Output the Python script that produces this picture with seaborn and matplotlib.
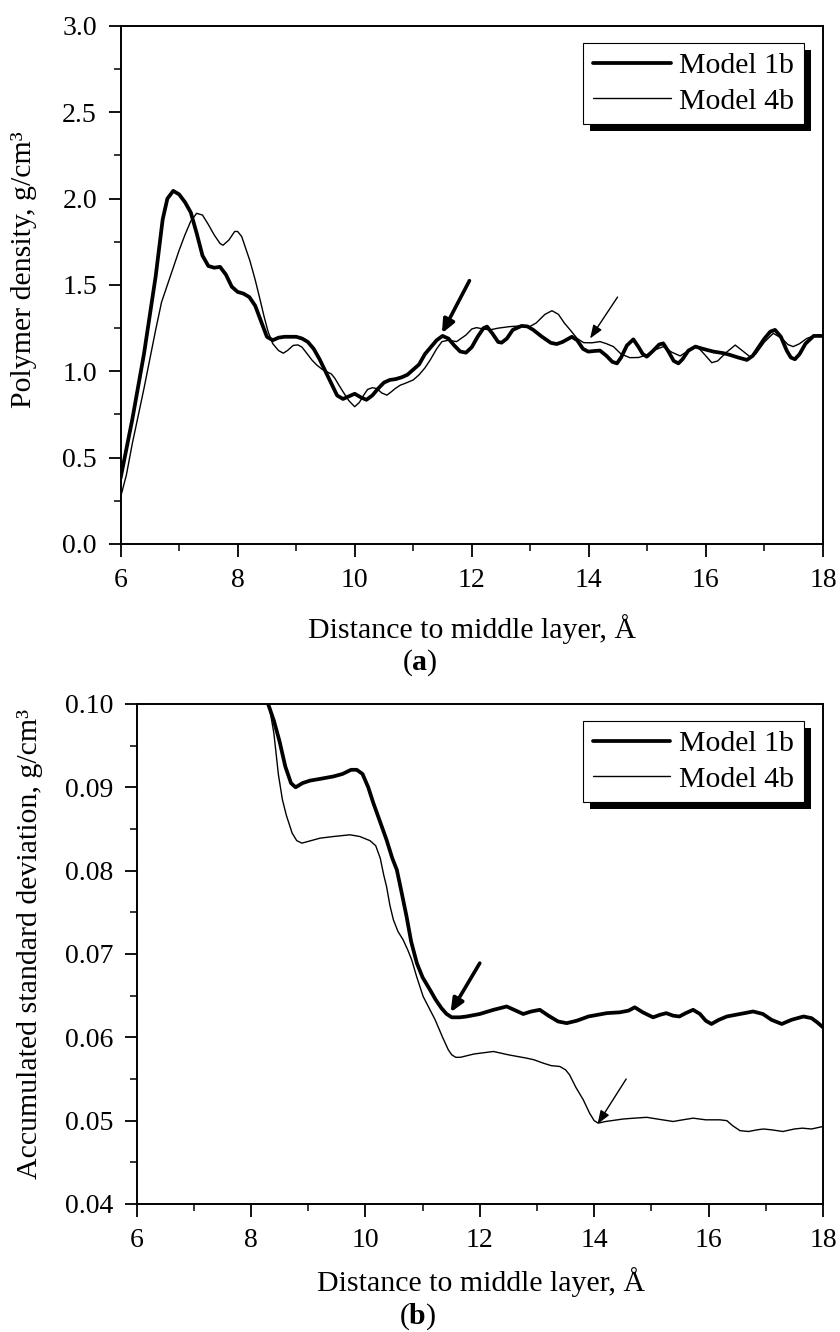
import numpy as np
import pandas as pd
import matplotlib
matplotlib.use("Agg")
import matplotlib.pyplot as plt
import seaborn as sns
from matplotlib.patches import Rectangle
from matplotlib.ticker import MultipleLocator, FormatStrFormatter

# ---------------- data: panel (a) polymer density ----------------
a_m1_x = [6.0, 6.2, 6.4, 6.6, 6.72, 6.8, 6.9, 7.0, 7.1, 7.2, 7.3, 7.4, 7.5, 7.6, 7.7, 7.8, 7.9,
          8.0, 8.1, 8.2, 8.3, 8.4, 8.5, 8.6, 8.7, 8.8, 9.0, 9.1, 9.2, 9.3, 9.4, 9.5, 9.6, 9.7,
          9.8, 9.9, 10.0, 10.1, 10.2, 10.3, 10.4, 10.5, 10.6, 10.7, 10.8, 10.9, 11.0, 11.1,
          11.2, 11.3, 11.4, 11.5, 11.6, 11.7, 11.8, 11.9, 12.0, 12.1, 12.2, 12.26, 12.35,
          12.45, 12.51, 12.6, 12.7, 12.85, 12.95, 13.05, 13.2, 13.35, 13.45, 13.55, 13.71,
          13.8, 13.9, 13.99, 14.1, 14.19, 14.3, 14.4, 14.48, 14.55, 14.65, 14.76, 14.85,
          14.92, 14.99, 15.1, 15.2, 15.27, 15.35, 15.45, 15.53, 15.6, 15.7, 15.82, 15.95,
          16.13, 16.3, 16.41, 16.55, 16.7, 16.8, 16.9, 17.0, 17.1, 17.18, 17.28, 17.38,
          17.45, 17.52, 17.6, 17.7, 17.84, 18.0]
a_m1_y = [0.38, 0.72, 1.10, 1.55, 1.88, 2.0, 2.045, 2.025, 1.98, 1.92, 1.80, 1.67, 1.61, 1.60,
          1.605, 1.56, 1.49, 1.46, 1.45, 1.43, 1.38, 1.29, 1.20, 1.18, 1.195, 1.20, 1.20, 1.19,
          1.17, 1.13, 1.07, 1.00, 0.93, 0.86, 0.84, 0.855, 0.87, 0.85, 0.835, 0.86, 0.90, 0.935,
          0.95, 0.955, 0.965, 0.98, 1.01, 1.04, 1.10, 1.14, 1.18, 1.205, 1.19, 1.15, 1.115,
          1.108, 1.14, 1.20, 1.25, 1.259, 1.22, 1.17, 1.166, 1.19, 1.24, 1.263, 1.26, 1.24,
          1.20, 1.165, 1.158, 1.17, 1.20, 1.18, 1.13, 1.114, 1.118, 1.12, 1.09, 1.055, 1.046,
          1.08, 1.15, 1.185, 1.14, 1.10, 1.085, 1.12, 1.155, 1.162, 1.12, 1.06, 1.046, 1.07,
          1.12, 1.143, 1.13, 1.114, 1.105, 1.095, 1.08, 1.066, 1.09, 1.14, 1.19, 1.23, 1.24,
          1.20, 1.12, 1.08, 1.07, 1.10, 1.16, 1.205, 1.205]

a_m4_x = [6.0, 6.1, 6.2, 6.3, 6.4, 6.5, 6.6, 6.7, 6.8, 6.9, 7.0, 7.1, 7.2, 7.3, 7.4, 7.5, 7.6,
          7.7, 7.75, 7.85, 7.95, 8.0, 8.07, 8.15, 8.21, 8.3, 8.38, 8.45, 8.52, 8.6, 8.7, 8.78,
          8.85, 8.95, 9.03, 9.1, 9.18, 9.27, 9.35, 9.45, 9.52, 9.6, 9.66, 9.73, 9.8, 9.9, 10.0,
          10.08, 10.15, 10.22, 10.3, 10.38, 10.46, 10.55, 10.62, 10.69, 10.78, 10.86, 11.0,
          11.1, 11.2, 11.29, 11.4, 11.49, 11.6, 11.74, 11.9, 12.0, 12.08, 12.2, 12.31, 12.45,
          12.65, 12.8, 12.99, 13.1, 13.25, 13.37, 13.48, 13.58, 13.68, 13.8, 13.91, 14.05,
          14.19, 14.3, 14.42, 14.55, 14.7, 14.85, 14.99, 15.1, 15.27, 15.42, 15.56, 15.7,
          15.84, 15.97, 16.1, 16.2, 16.35, 16.5, 16.62, 16.75, 16.85, 17.0, 17.15, 17.3, 17.4,
          17.49, 17.6, 17.72, 17.84, 18.0]
a_m4_y = [0.27, 0.40, 0.58, 0.74, 0.90, 1.07, 1.24, 1.40, 1.50, 1.60, 1.70, 1.79, 1.87, 1.915,
          1.905, 1.85, 1.79, 1.74, 1.73, 1.76, 1.81, 1.81, 1.78, 1.70, 1.64, 1.53, 1.42, 1.32,
          1.23, 1.16, 1.12, 1.105, 1.12, 1.15, 1.153, 1.14, 1.105, 1.065, 1.037, 1.01, 0.998,
          0.985, 0.96, 0.92, 0.882, 0.83, 0.795, 0.82, 0.86, 0.895, 0.905, 0.90, 0.875, 0.862,
          0.88, 0.90, 0.92, 0.93, 0.95, 0.98, 1.02, 1.066, 1.13, 1.172, 1.18, 1.172, 1.21,
          1.245, 1.253, 1.245, 1.24, 1.25, 1.259, 1.262, 1.259, 1.28, 1.33, 1.351, 1.33, 1.28,
          1.24, 1.19, 1.166, 1.165, 1.172, 1.16, 1.143, 1.10, 1.079, 1.08, 1.095, 1.12, 1.143,
          1.11, 1.089, 1.12, 1.147, 1.10, 1.05, 1.06, 1.11, 1.152, 1.12, 1.085, 1.10, 1.17,
          1.22, 1.19, 1.155, 1.143, 1.16, 1.19, 1.205, 1.205]

# ---------------- data: panel (b) accumulated standard deviation ----------------
b_m1_x = [8.2, 8.3, 8.4, 8.5, 8.6, 8.7, 8.78, 8.9, 9.03, 9.2, 9.44, 9.6, 9.75, 9.85, 9.95,
          10.05, 10.14, 10.25, 10.37, 10.47, 10.55, 10.63, 10.72, 10.8, 10.9, 11.0, 11.13,
          11.23, 11.33, 11.42, 11.51, 11.65, 11.77, 12.0, 12.24, 12.47, 12.6, 12.76, 12.9,
          13.05, 13.2, 13.37, 13.52, 13.7, 13.9, 14.22, 14.45, 14.6, 14.71, 14.85, 15.03,
          15.15, 15.26, 15.38, 15.49, 15.6, 15.73, 15.85, 15.95, 16.05, 16.18, 16.32, 16.55,
          16.78, 16.95, 17.1, 17.28, 17.45, 17.66, 17.8, 17.9, 18.0]
b_m1_y = [0.1025, 0.1, 0.098, 0.0955, 0.0925, 0.0905, 0.0900, 0.0905, 0.0908, 0.0910, 0.0913,
          0.0916, 0.0921, 0.0921, 0.0916, 0.0900, 0.0881, 0.0860, 0.0837, 0.0815, 0.0801,
          0.0775, 0.0745, 0.0715, 0.0689, 0.0672, 0.0657, 0.0645, 0.0635, 0.0628, 0.0624,
          0.0624, 0.0625, 0.0628, 0.0633, 0.0637, 0.0633, 0.0628, 0.0631, 0.0633, 0.0626,
          0.0619, 0.0617, 0.0620, 0.0625, 0.0629, 0.0630, 0.0632, 0.0636, 0.0630, 0.0624,
          0.0627, 0.0629, 0.0626, 0.0625, 0.0629, 0.0633, 0.0628, 0.0620, 0.0616, 0.0621,
          0.0625, 0.0628, 0.0631, 0.0628, 0.0621, 0.0616, 0.0621, 0.0625, 0.0623, 0.0618,
          0.0612]

b_m4_x = [8.2, 8.3, 8.4, 8.48, 8.55, 8.62, 8.72, 8.8, 8.89, 9.05, 9.21, 9.45, 9.73, 9.9,
          10.08, 10.18, 10.26, 10.32, 10.37, 10.43, 10.49, 10.57, 10.66, 10.74, 10.81, 10.9,
          11.01, 11.1, 11.22, 11.35, 11.45, 11.51, 11.58, 11.66, 11.9, 12.24, 12.5, 12.82,
          12.95, 13.11, 13.25, 13.4, 13.5, 13.57, 13.68, 13.81, 13.92, 14.0, 14.07, 14.2,
          14.51, 14.7, 14.92, 15.1, 15.38, 15.55, 15.73, 15.95, 16.2, 16.32, 16.42, 16.55,
          16.7, 16.85, 16.96, 17.1, 17.3, 17.5, 17.64, 17.8, 18.0]
b_m4_y = [0.1025, 0.1005, 0.0965, 0.0915, 0.0885, 0.0866, 0.0845, 0.0836, 0.0833, 0.0836,
          0.0839, 0.0841, 0.0843, 0.0841, 0.0836, 0.0830, 0.0815, 0.0795, 0.0781, 0.0758,
          0.0741, 0.0727, 0.0717, 0.0705, 0.0693, 0.0672, 0.0649, 0.0637, 0.0621, 0.0600,
          0.0585, 0.0579, 0.0576, 0.0576, 0.0580, 0.0583, 0.0579, 0.0575, 0.0573, 0.0569,
          0.0566, 0.0565, 0.0561, 0.0555, 0.0540, 0.0525, 0.0509, 0.0500, 0.0497, 0.0499,
          0.0502, 0.0503, 0.0504, 0.0502, 0.0499, 0.0501, 0.0503, 0.0501, 0.0501, 0.0500,
          0.0494, 0.0488, 0.0487, 0.0489, 0.0490, 0.0489, 0.0487, 0.0490, 0.0491, 0.0490,
          0.0493]

series_labels = ["Model 1b", "Model 4b"]
x_label = "Distance to middle layer, Å"
y_label_a = "Polymer density, g/cm³"
y_label_b = "Accumulated standard deviation, g/cm³"

# arrows (tail -> head) in data units
a_arrows = [((11.96, 1.525), (11.49, 1.22), 2.6), ((14.49, 1.43), (14.02, 1.19), 1.0)]
b_arrows = [((12.0, 0.0689), (11.49, 0.0630), 2.6), ((14.56, 0.0550), (14.06, 0.0496), 1.0)]

# ---------------- style ----------------
sns.set_style("ticks", {"axes.edgecolor": "black", "xtick.color": "black", "ytick.color": "black",
                        "text.color": "black", "axes.labelcolor": "black"})
plt.rcParams["font.family"] = ["Liberation Serif", "DejaVu Serif"]
plt.rcParams["mathtext.fontset"] = "custom"
plt.rcParams["mathtext.rm"] = "Liberation Serif"
plt.rcParams["mathtext.bf"] = "Liberation Serif:bold"

FS_TICK = 20
FS_LAB = 21.5
fig = plt.figure(figsize=(8.4, 13.32), dpi=100)
ax1 = fig.add_axes([0.1435, 0.5916, 0.8363, 0.3889])
ax2 = fig.add_axes([0.1626, 0.0961, 0.8171, 0.3754])

LW = [2.7, 1.0]


def draw_panel(ax, xs, ys, arrows):
    for (x, y), lw, lab in zip(zip(xs, ys), LW, series_labels):
        sns.lineplot(x=x, y=y, ax=ax, color="black", linewidth=lw, label=lab,
                     sort=False, estimator=None)
    for tail, head, lw in arrows:
        hw = 0.35 if lw > 2 else 0.3
        ax.annotate("", xy=head, xytext=tail,
                    arrowprops=dict(arrowstyle=f"-|>,head_length=0.8,head_width={hw}",
                                    lw=lw, color="black", shrinkA=0, shrinkB=0))
    ax.set_xlim(6, 18)
    ax.xaxis.set_major_locator(MultipleLocator(2))
    ax.xaxis.set_minor_locator(MultipleLocator(1))
    ax.tick_params(which="major", direction="out", length=9, width=1.3, labelsize=FS_TICK,
                   pad=8, top=False, right=False)
    ax.tick_params(which="minor", direction="out", length=5, width=1.1, top=False, right=False)
    for s in ax.spines.values():
        s.set_linewidth(1.4)
        s.set_color("black")
    leg = ax.legend(loc="upper right", borderaxespad=0, frameon=True, fancybox=False,
                    edgecolor="black", framealpha=1, fontsize=FS_LAB, handlelength=2.6,
                    handletextpad=0.3, borderpad=0.32, labelspacing=0.28)
    leg.get_frame().set_linewidth(0.8)
    return leg


leg1 = draw_panel(ax1, [a_m1_x, a_m4_x], [a_m1_y, a_m4_y], a_arrows)
ax1.set_ylim(0, 3.0)
ax1.yaxis.set_major_locator(MultipleLocator(0.5))
ax1.yaxis.set_minor_locator(MultipleLocator(0.25))
ax1.yaxis.set_major_formatter(FormatStrFormatter("%.1f"))
leg1.set_bbox_to_anchor((1 - 19 / 702, 1 - 17 / 518), transform=ax1.transAxes)

leg2 = draw_panel(ax2, [b_m1_x, b_m4_x], [b_m1_y, b_m4_y], b_arrows)
ax2.set_ylim(0.04, 0.10)
ax2.yaxis.set_major_locator(MultipleLocator(0.01))
ax2.yaxis.set_minor_locator(MultipleLocator(0.005))
ax2.yaxis.set_major_formatter(FormatStrFormatter("%.2f"))
leg2.set_bbox_to_anchor((1 - 19 / 686, 1 - 17 / 500), transform=ax2.transAxes)

ax1.set_xlabel(x_label, fontsize=FS_LAB, va="center")
ax1.xaxis.set_label_coords(0.5, -0.164)
ax1.set_ylabel(y_label_a, fontsize=FS_LAB, va="center")
ax1.yaxis.set_label_coords(-0.138, 0.53)

ax2.set_xlabel(x_label, fontsize=FS_LAB, va="center")
ax2.xaxis.set_label_coords(0.502, -0.157)
ax2.set_ylabel(y_label_b, fontsize=FS_LAB, va="center")
ax2.yaxis.set_label_coords(-0.155, 0.52)

fig.text(0.50, 1 - 663 / 1332, r"($\mathbf{a}$)", ha="center", va="center", fontsize=FS_LAB)
fig.text(0.4976, 1 - 1317 / 1332, r"($\mathbf{b}$)", ha="center", va="center", fontsize=FS_LAB)

# Origin-style solid shadow behind each legend box
fig.canvas.draw()
for ax, leg in [(ax1, leg1), (ax2, leg2)]:
    bb = leg.get_frame().get_window_extent()
    off_x, off_y = 7, -7
    inv = ax.transAxes.inverted()
    (x0, y0) = inv.transform((bb.x0 + off_x, bb.y0 + off_y))
    (x1, y1) = inv.transform((bb.x1 + off_x, bb.y1 + off_y))
    ax.add_patch(Rectangle((x0, y0), x1 - x0, y1 - y0, transform=ax.transAxes,
                           facecolor="black", edgecolor="none", zorder=4.9, clip_on=False))
    leg.set_zorder(5)

fig.savefig("out.png", dpi=100)
